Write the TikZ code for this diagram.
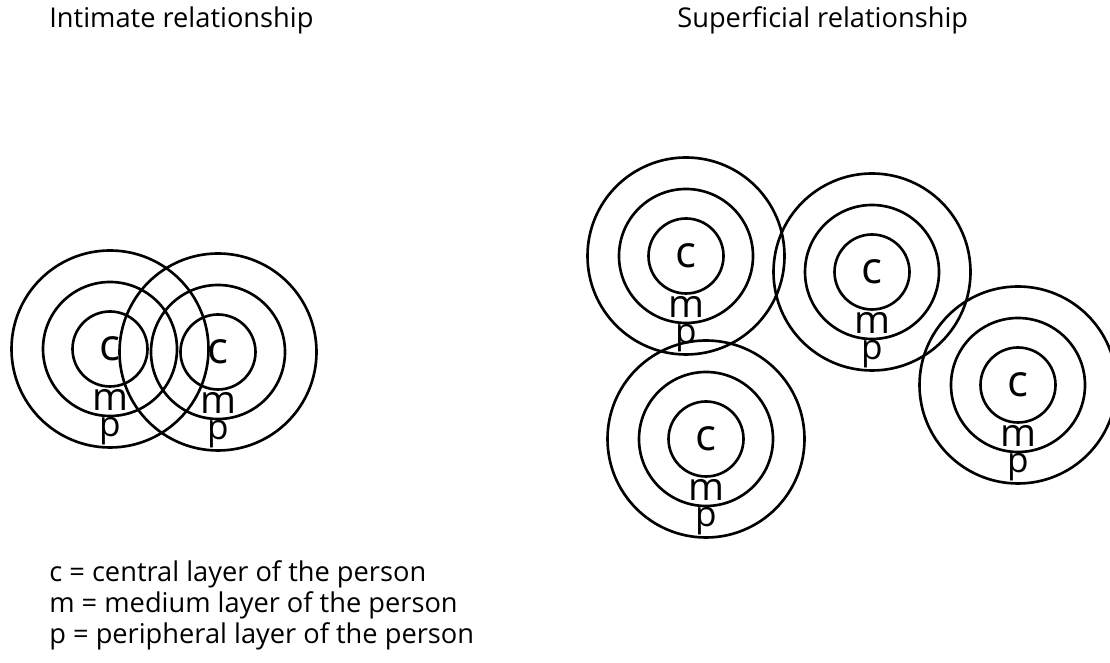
\documentclass[tikz,border=0pt]{standalone}
\usepackage{fontspec}
\setmainfont{Open Sans}

\begin{document}
\begin{tikzpicture}[
  every node/.style={font=\fontsize{15.5}{18}\selectfont},
  core/.style={circle, draw, line width=1.5pt, minimum size=1.5cm, inner sep=0pt, font=\fontsize{25}{29}\selectfont},
  midring/.style={circle, draw, line width=1.5pt, minimum size=2.68cm},
  outring/.style={circle, draw, line width=1.5pt, minimum size=3.94cm},
  tag/.style={anchor=base, inner sep=0pt, font=\fontsize{22}{26}\selectfont},
  ptag/.style={tag, font=\fontsize{20}{24}\selectfont},
  head/.style={anchor=base west, inner sep=0pt},
]
\useasboundingbox (0,0) rectangle (22.2,13.26);
% headings
\node[head] (tintimate) at (0.98,12.70) {Intimate relationship};
\node[head] (tsuperficial) at (13.54,12.70) {Superficial relationship};
% intimate pair, rings overlapping
\node[core] (il) at (2.20,6.28) {c};
\node[midring] (ilm) at (il) {};
\node[outring] (ilp) at (il) {};
\node[tag] (ilmt) at ([yshift=-1.24cm]il) {m};
\node[ptag] (ilpt) at ([yshift=-1.76cm]il) {p};
\node[core] (ir) at (4.36,6.22) {c};
\node[midring] (irm) at (ir) {};
\node[outring] (irp) at (ir) {};
\node[tag] (irmt) at ([yshift=-1.24cm]ir) {m};
\node[ptag] (irpt) at ([yshift=-1.76cm]ir) {p};
% superficial group, only outer rings touch
\node[core] (sa) at (13.72,8.14) {c};
\node[midring] (sam) at (sa) {};
\node[outring] (sap) at (sa) {};
\node[tag] (samt) at ([yshift=-1.24cm]sa) {m};
\node[ptag] (sapt) at ([yshift=-1.76cm]sa) {p};
\node[core] (sb) at (17.44,7.82) {c};
\node[midring] (sbm) at (sb) {};
\node[outring] (sbp) at (sb) {};
\node[tag] (sbmt) at ([yshift=-1.24cm]sb) {m};
\node[ptag] (sbpt) at ([yshift=-1.76cm]sb) {p};
\node[core] (sc) at (20.36,5.56) {c};
\node[midring] (scm) at (sc) {};
\node[outring] (scp) at (sc) {};
\node[tag] (scmt) at ([yshift=-1.24cm]sc) {m};
\node[ptag] (scpt) at ([yshift=-1.76cm]sc) {p};
\node[core] (sd) at (14.12,4.48) {c};
\node[midring] (sdm) at (sd) {};
\node[outring] (sdp) at (sd) {};
\node[tag] (sdmt) at ([yshift=-1.24cm]sd) {m};
\node[ptag] (sdpt) at ([yshift=-1.76cm]sd) {p};
% key
\node[head] (kc) at (0.98,1.62) {c = central layer of the person};
\node[head] (km) at (0.98,1.00) {m = medium layer of the person};
\node[head] (kp) at (0.98,0.38) {p = peripheral layer of the person};
\end{tikzpicture}
\end{document}
